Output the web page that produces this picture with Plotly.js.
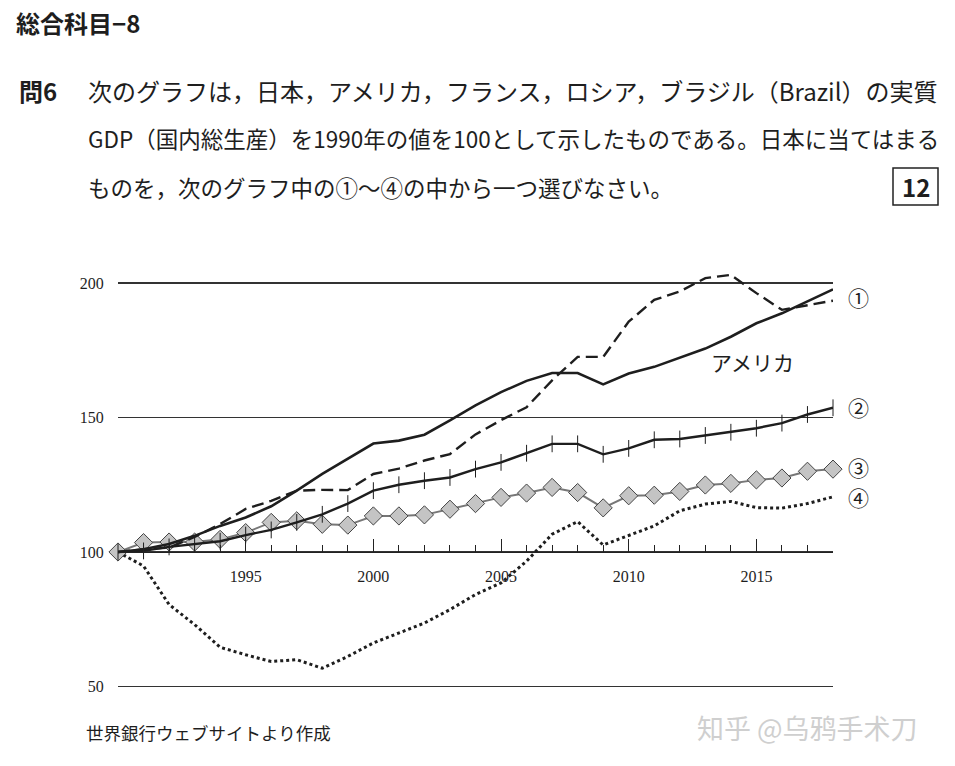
<!DOCTYPE html>
<html>
<head>
<meta charset="utf-8">
<script src="https://cdn.plot.ly/plotly-3.0.1.min.js"></script>
<style>html,body{margin:0;padding:0;background:#fff;}#chart{width:955px;height:766px;}</style>
</head>
<body>
<div id="chart"></div>
<script>
const years = [1990,1991,1992,1993,1994,1995,1996,1997,1998,1999,2000,2001,2002,2003,2004,2005,2006,2007,2008,2009,2010,2011,2012,2013,2014,2015,2016,2017,2018];
const america = [100,101,103,106,109.7,112.8,117,122.8,129,134.7,140.3,141.4,143.6,148.9,154.5,159.4,163.6,166.5,166.5,162.3,166.3,168.8,172.3,175.6,180,185,188.7,193,197.6];
const series1 = [100,101,101.6,105.6,110.4,116,119,122.8,123.1,123,129,131,134,136.4,143.7,149,153.8,163.8,172.5,172.5,185.6,193.7,196.8,201.8,203,196.2,190,191.8,193.4];
const series2 = [100,100.4,101.9,103,104,106.3,108.2,111,114,118,122.8,125,126.5,127.7,130.8,133.3,136.7,140.2,140.2,136.3,138.5,141.7,142,143.3,144.5,146,147.9,151.1,153.6];
const series3 = [100,103.5,103.7,103.7,104.7,107.2,111,111.6,110.3,110,113.4,113.4,113.8,115.9,118,120.3,121.9,124,122.1,116.4,120.9,121.1,122.5,124.9,125.5,126.8,127.5,130,130.8];
const series4 = [100,94.8,80.5,73,64.6,61.8,59.3,60,56.8,61.2,66.2,69.9,73.6,78.6,84.2,88.5,96.6,106.6,111.3,102.6,106,109.7,115.3,117.8,118.8,116.5,116.3,118,120.5];
const yTicks = [50,100,150,200];
const xTicks = [1995,2000,2005,2010,2015];
const seriesLabels = ['①','②','③','④'];
const usLabel = 'アメリカ';
const headerText = '総合科目−8';
const qNum = '問6';
const qLines = ['次のグラフは，日本，アメリカ，フランス，ロシア，ブラジル（Brazil）の実質',
  'GDP（国内総生産）を1990年の値を100として示したものである。日本に当てはまる',
  'ものを，次のグラフ中の①〜④の中から一つ選びなさい。'];
const answerBox = '12';
const sourceText = '世界銀行ウェブサイトより作成';
const watermark = '知乎 @乌鸦手术刀';

const L = 118, R = 122, T = 256, B = 66, W = 955, H = 766;
const PW = W - L - R, PH = H - T - B;
const px = x => (x - L) / PW;
const py = y => (H - B - y) / PH;
const JP = '"Noto Sans CJK JP", sans-serif';
const SERIF = '"Liberation Serif", "DejaVu Serif", serif';
const INK = '#1e1e1e';

const traces = [
  {x: years, y: series4, mode: 'lines', line: {color: INK, width: 3, dash: '3px,3px'}, cliponaxis: false},
  {x: years, y: series3, mode: 'lines+markers', line: {color: '#777', width: 2},
   marker: {symbol: 'diamond', size: 14, color: '#c4c4c4', line: {color: '#444', width: 1}}, cliponaxis: false},
  {x: years, y: series2, mode: 'lines+markers', line: {color: INK, width: 2.4},
   marker: {symbol: 'line-ns-open', size: 12, line: {color: '#333', width: 1}}, cliponaxis: false},
  {x: years, y: series1, mode: 'lines', line: {color: INK, width: 2.4, dash: '12px,6px'}, cliponaxis: false},
  {x: years, y: america, mode: 'lines', line: {color: INK, width: 2.6}, cliponaxis: false}
];

const ann = [];
const labelY = [297, 407, 467, 497];
seriesLabels.forEach((t, i) => ann.push({text: t, x: px(858), y: py(labelY[i]), xref: 'paper', yref: 'paper',
  showarrow: false, xanchor: 'center', yanchor: 'middle', font: {family: JP, size: 21, color: INK}}));
ann.push({text: usLabel, x: px(752), y: py(362), xref: 'paper', yref: 'paper', showarrow: false,
  xanchor: 'center', yanchor: 'middle', font: {family: JP, size: 21, color: INK}});
ann.push({text: '<b>' + headerText + '</b>', x: px(14), y: py(22), xref: 'paper', yref: 'paper', showarrow: false,
  xanchor: 'left', yanchor: 'middle', font: {family: JP, size: 24, color: INK}});
ann.push({text: '<b>' + qNum + '</b>', x: px(17), y: py(90), xref: 'paper', yref: 'paper', showarrow: false,
  xanchor: 'left', yanchor: 'middle', font: {family: JP, size: 24, color: INK}});
const lineY = [90, 138, 187];
const lineSize = [24, 22.5, 22.5];
qLines.forEach((t, i) => ann.push({text: t, x: px(86), y: py(lineY[i]), xref: 'paper', yref: 'paper', showarrow: false,
  xanchor: 'left', yanchor: 'middle', font: {family: JP, size: lineSize[i], color: INK}}));
ann.push({text: '<b>' + answerBox + '</b>', x: px(915.5), y: py(187), xref: 'paper', yref: 'paper', showarrow: false,
  xanchor: 'center', yanchor: 'middle', font: {family: JP, size: 24, color: INK}});
ann.push({text: sourceText, x: px(84), y: py(732), xref: 'paper', yref: 'paper', showarrow: false,
  xanchor: 'left', yanchor: 'middle', font: {family: JP, size: 17.5, color: INK}});
ann.push({text: watermark, x: px(695), y: py(727), xref: 'paper', yref: 'paper', showarrow: false,
  xanchor: 'left', yanchor: 'middle', font: {family: '"Noto Sans CJK SC", sans-serif', size: 27, color: '#cfcfcf'}});

const layout = {
  width: W, height: H,
  margin: {l: L, r: R, t: T, b: B, pad: 0},
  paper_bgcolor: '#ffffff', plot_bgcolor: '#ffffff',
  showlegend: false,
  xaxis: {
    range: [1990, 2018], anchor: 'free', position: (100 - 45) / 165,
    showline: true, linecolor: '#222', linewidth: 1.4,
    showgrid: false, zeroline: false,
    tickmode: 'array', tickvals: xTicks, ticktext: xTicks.map(String),
    ticks: 'inside', ticklen: 13, tickwidth: 1, tickcolor: '#222',
    ticklabelstandoff: 9,
    tickfont: {family: SERIF, size: 16, color: INK},
    minor: {dtick: 1, tick0: 1990, ticks: 'inside', ticklen: 7, tickwidth: 1, tickcolor: '#222', showgrid: false}
  },
  yaxis: {
    range: [45, 210], showline: false, zeroline: false,
    tickmode: 'array', tickvals: yTicks, ticktext: yTicks.map(String),
    showgrid: true, gridcolor: '#333', gridwidth: 1.2,
    ticks: 'outside', ticklen: 10, tickcolor: 'rgba(0,0,0,0)',
    tickfont: {family: SERIF, size: 16, color: INK}
  },
  shapes: [{type: 'rect', xref: 'paper', yref: 'paper', x0: px(893), x1: px(938), y0: py(205), y1: py(168),
    line: {color: '#222', width: 1.5}}],
  annotations: ann
};

Plotly.newPlot('chart', traces, layout, {staticPlot: true, displayModeBar: false});
</script>
</body>
</html>
